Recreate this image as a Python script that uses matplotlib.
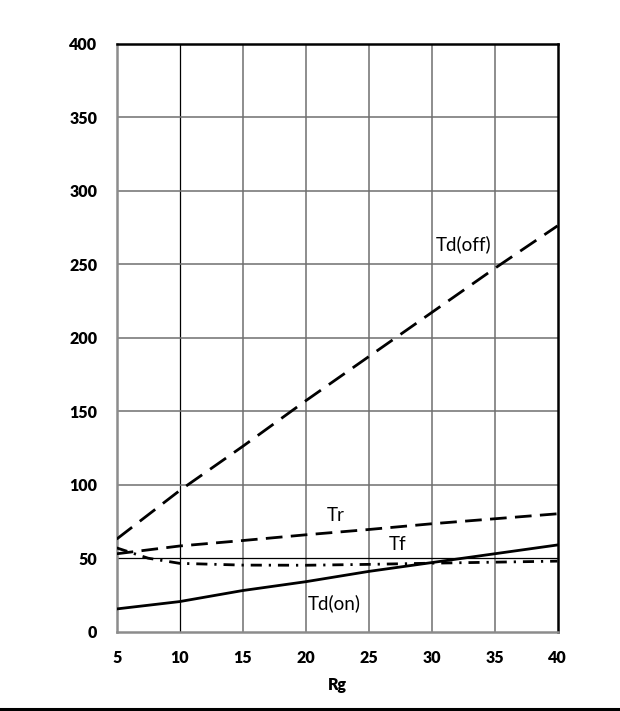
import matplotlib.pyplot as plt
from matplotlib.lines import Line2D

# switching times vs gate resistance
rg = [5, 10, 15, 20, 25, 30, 35, 40]
td_off = [63, 96, 126, 157, 187, 217, 247, 276]
tr = [53, 58.3, 62, 65.9, 69.5, 73.4, 76.8, 80.2]
td_on = [15.5, 20.5, 28, 34, 41, 47, 53, 59]
rg_tf = [5, 7.5, 10, 15, 20, 25, 30, 35, 40]
tf = [57, 50, 46.5, 45.3, 45.2, 45.8, 46.6, 47.3, 48]

x_ticks = [5, 10, 15, 20, 25, 30, 35, 40]
y_ticks = [0, 50, 100, 150, 200, 250, 300, 350, 400]

plt.rcParams['font.family'] = ['Lato', 'DejaVu Sans']

fig = plt.figure(figsize=(6.2, 7.11), dpi=100)
ax = fig.add_axes([0.1882, 0.1115, 0.7110, 0.8273])

# grid: grey lines, with x=10 and y=50 drawn in thin black
for xv in x_ticks[1:-1]:
    if xv == 10:
        ax.axvline(xv, color='black', lw=0.9, zorder=1)
    else:
        ax.axvline(xv, color='#6f6f6f', lw=1.1, zorder=1)
for yv in y_ticks[1:-1]:
    if yv == 50:
        ax.axhline(yv, color='black', lw=0.9, zorder=1)
    else:
        ax.axhline(yv, color='#6f6f6f', lw=1.1, zorder=1)

ax.plot(rg, td_off, color='black', lw=2.0, dashes=(7, 3.5), zorder=3)
ax.plot(rg, tr, color='black', lw=2.0, dashes=(6, 3), zorder=3)
ax.plot(rg_tf, tf, color='black', lw=2.0, dashes=(4, 2.5, 0.8, 2.5), zorder=3)
ax.plot(rg, td_on, color='black', lw=2.0, zorder=3)

ax.text(32.55, 263.5, 'Td(off)', ha='center', va='center', fontsize=13.5)
ax.text(22.37, 78.8, 'Tr', ha='center', va='center', fontsize=13.5)
ax.text(27.3, 59, 'Tf', ha='center', va='center', fontsize=13.5)
ax.text(22.3, 19.6, 'Td(on)', ha='center', va='center', fontsize=13.5)

ax.set_xlim(5, 40)
ax.set_ylim(0, 400)
ax.set_xticks(x_ticks)
ax.set_yticks(y_ticks)
ax.tick_params(length=0, labelsize=11.5)
ax.tick_params(axis='x', pad=13)
ax.tick_params(axis='y', pad=14)
for lbl in ax.get_xticklabels() + ax.get_yticklabels():
    lbl.set_fontweight('heavy')
ax.set_xlabel('Rg', fontweight='heavy', fontsize=11.5, labelpad=8)

ax.spines['left'].set_color('#8c8c8c')
ax.spines['left'].set_linewidth(1.8)
ax.spines['bottom'].set_color('#8c8c8c')
ax.spines['bottom'].set_linewidth(1.8)
ax.spines['top'].set_color('black')
ax.spines['top'].set_linewidth(1.8)
ax.spines['right'].set_color('black')
ax.spines['right'].set_linewidth(1.8)

# rule across the bottom of the figure
fig.add_artist(Line2D([0, 1], [0.0035, 0.0035], transform=fig.transFigure,
                      color='black', lw=2.2))

plt.savefig('out.png', dpi=100)
